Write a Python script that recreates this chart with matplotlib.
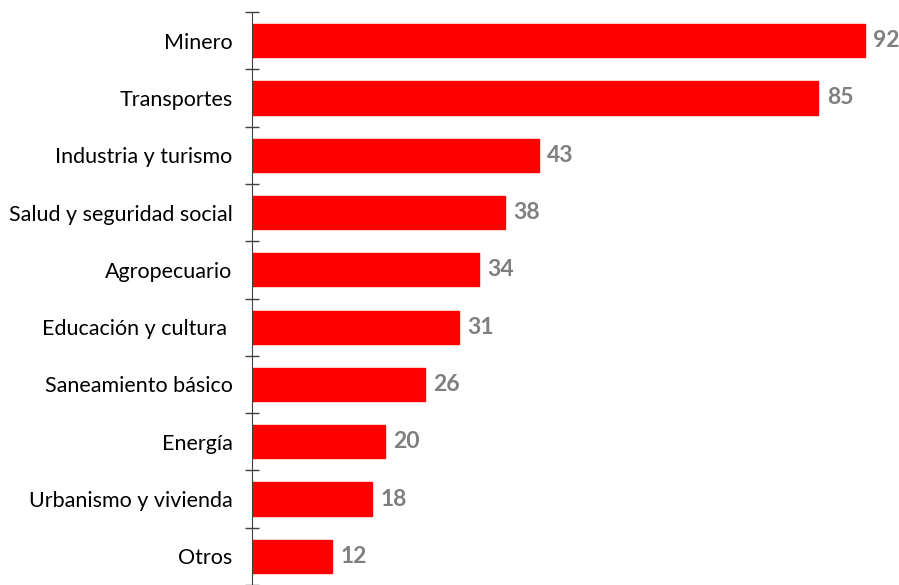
import numpy as np
import matplotlib.pyplot as plt

# datos del gráfico
sectores = ["Minero", "Transportes", "Industria y turismo", "Salud y seguridad social",
            "Agropecuario", "Educación y cultura ", "Saneamiento básico", "Energía",
            "Urbanismo y vivienda", "Otros"]
valores = [92, 85, 43, 38, 34, 31, 26, 20, 18, 12]

plt.rcParams['font.family'] = ['Lato', 'DejaVu Sans']

fig = plt.figure(figsize=(8.99, 5.85), dpi=100)
ax = fig.add_axes([252 / 899, 0.0, 1 - 252 / 899, 1 - 12 / 585])

n = len(sectores)
pos = np.arange(n)
ax.barh(pos, valores, height=0.58, color="#ff0000", edgecolor="#ff0000")

# etiquetas de valor
for p, v in zip(pos, valores):
    ax.annotate(str(v), xy=(v, p), xytext=(6, 0), textcoords="offset points",
                ha="left", va="center", fontsize=16.5, fontweight="bold", color="#7f7f7f")

ax.set_xlim(0, 97.1)
ax.set_ylim(n - 0.5, -0.5)

# marcas en los limites de categoria, etiquetas al centro
ax.set_yticks(np.arange(n + 1) - 0.5)
ax.set_yticklabels([""] * (n + 1))
ax.tick_params(axis="y", which="major", direction="inout", length=10, width=1, color="#404040")
ax.set_yticks(pos, minor=True)
ax.set_yticklabels(sectores, minor=True, fontsize=15.5)
ax.tick_params(axis="y", which="minor", length=0, pad=14)

ax.set_xticks([])
for s in ["top", "right", "bottom"]:
    ax.spines[s].set_visible(False)
ax.spines["left"].set_color("#404040")

fig.savefig("out.png", dpi=100)
